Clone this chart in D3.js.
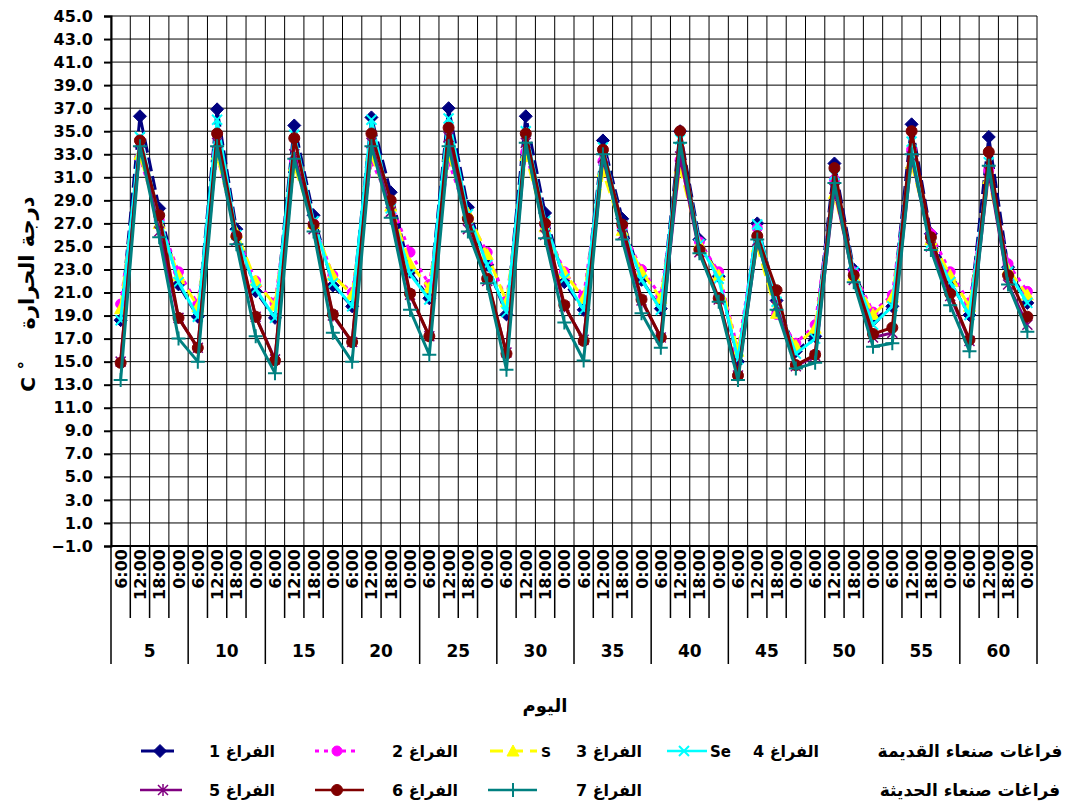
<!DOCTYPE html>
<html>
<head>
<meta charset="utf-8">
<script src="https://cdn.jsdelivr.net/npm/d3@7"></script>
<style>
  html, body { margin: 0; padding: 0; background: #fff; }
  svg { display: block; }
  text { font-family: "DejaVu Sans", "Liberation Sans", sans-serif; font-weight: bold; fill: #000; }
</style>
</head>
<body>
<svg id="chart" width="1082" height="809"></svg>
<script>
// Days and observation hours on the category axis
const days = [5, 10, 15, 20, 25, 30, 35, 40, 45, 50, 55, 60];
const times = ["6:00", "12:00", "18:00", "0:00"];
const yTicks = [-1, 1, 3, 5, 7, 9, 11, 13, 15, 17, 19, 21, 23, 25, 27, 29, 31, 33, 35, 37, 39, 41, 43, 45];

// Air temperature (°C) for each space, 4 readings per day
const space1 = [18.6, 36.3, 28.3, 21.7, 18.9, 36.9, 26.5, 21.1, 18.8, 35.5, 27.7, 21.6,
                19.8, 36.2, 29.7, 22.8, 20.5, 37.0, 28.4, 23.4, 19.1, 36.3, 27.9, 21.9,
                19.5, 34.2, 27.4, 22.1, 19.6, 35.0, 25.6, 22.4, 15.0, 27.0, 20.3, 15.9,
                17.2, 32.2, 23.0, 18.6, 19.8, 35.6, 26.1, 21.9, 19.05, 34.5, 23.2, 20.1];
const space2 = [20.0, 32.7, 27.3, 22.8, 20.0, 33.0, 26.0, 22.0, 20.1, 32.5, 27.0, 22.5,
                21.0, 32.4, 28.8, 24.5, 21.7, 32.4, 27.5, 24.5, 20.3, 33.2, 26.8, 22.8,
                20.7, 32.4, 26.6, 23.0, 20.7, 32.5, 25.4, 22.8, 16.0, 26.6, 19.1, 16.6,
                18.2, 30.8, 22.8, 19.3, 20.8, 33.4, 26.1, 22.8, 20.1, 31.6, 23.5, 21.1];
const space3 = [19.6, 33.0, 27.0, 22.5, 19.8, 33.0, 26.2, 22.0, 19.9, 32.0, 27.0, 22.5,
                20.8, 32.9, 28.5, 23.5, 21.4, 32.9, 27.9, 24.3, 20.2, 32.9, 26.7, 22.7,
                20.5, 31.5, 26.4, 22.8, 20.5, 31.8, 25.2, 22.5, 15.9, 25.0, 19.2, 16.4,
                17.9, 29.6, 22.5, 19.1, 20.6, 32.2, 25.6, 22.5, 19.8, 30.9, 23.0, 20.8];
const space4 = [18.6, 34.5, 27.5, 21.9, 18.9, 36.0, 26.0, 21.3, 18.8, 34.7, 27.2, 21.8,
                19.8, 36.0, 28.3, 22.6, 20.4, 36.1, 27.8, 23.4, 19.3, 35.0, 27.2, 22.2,
                19.5, 33.6, 26.8, 22.1, 19.5, 34.3, 25.2, 22.2, 15.2, 26.9, 20.2, 15.7,
                17.0, 31.2, 22.8, 18.2, 19.8, 34.1, 25.3, 21.9, 19.05, 32.3, 22.8, 20.1];
const space5 = [15.0, 34.0, 26.3, 18.8, 16.2, 34.0, 25.5, 18.9, 15.2, 33.0, 26.5, 19.0,
                16.7, 34.0, 28.0, 20.8, 17.2, 34.5, 26.5, 22.0, 15.8, 34.0, 26.0, 19.8,
                16.9, 32.7, 26.0, 20.3, 17.1, 32.8, 24.5, 20.4, 13.8, 25.5, 19.8, 14.6,
                15.5, 30.0, 22.1, 17.1, 17.5, 32.8, 25.0, 20.7, 16.8, 31.5, 21.7, 18.2];
const space6 = [14.9, 34.2, 27.7, 18.8, 16.2, 34.8, 25.9, 18.9, 15.1, 34.4, 26.9, 19.1,
                16.7, 34.8, 29.0, 20.9, 17.2, 35.3, 27.4, 22.2, 15.7, 34.8, 27.0, 19.9,
                16.8, 33.4, 26.9, 20.4, 17.1, 35.0, 24.7, 20.5, 13.8, 25.9, 21.2, 14.7,
                15.6, 31.8, 22.5, 17.4, 17.95, 35.0, 25.8, 20.9, 16.9, 33.2, 22.5, 18.9];
const space7 = [13.4, 33.7, 25.8, 17.0, 15.0, 33.7, 25.2, 17.2, 14.0, 32.6, 26.3, 17.5,
                15.0, 33.7, 27.5, 19.5, 15.6, 33.7, 26.3, 21.8, 14.3, 34.0, 25.7, 18.4,
                15.1, 33.0, 25.6, 19.2, 16.2, 34.0, 24.4, 20.2, 13.4, 25.6, 19.5, 14.4,
                14.9, 30.5, 21.9, 16.3, 16.6, 33.0, 24.7, 19.9, 15.9, 32.0, 21.7, 17.6];

const seriesNames = ["الفراغ 1", "الفراغ 2", "الفراغ 3", "الفراغ 4", "الفراغ 5", "الفراغ 6", "الفراغ 7"];
const groupNames = ["فراغات صنعاء القديمة", "فراغات صنعاء الحديثة"];

// Drawing styles per series
const series = [
  { name: seriesNames[0], values: space1, color: "#000080", dash: "14,5", marker: "diamond" },
  { name: seriesNames[1], values: space2, color: "#FF00FF", dash: "4,5",  marker: "circleS" },
  { name: seriesNames[2], values: space3, color: "#FFFF00", dash: "13,7", marker: "triangle" },
  { name: seriesNames[3], values: space4, color: "#00FFFF", dash: null,   marker: "x" },
  { name: seriesNames[4], values: space5, color: "#800080", dash: null,   marker: "star" },
  { name: seriesNames[5], values: space6, color: "#800000", dash: null,   marker: "circle" },
  { name: seriesNames[6], values: space7, color: "#008080", dash: null,   marker: "plus" }
];

// Category table: one entry per (day, hour)
const categories = [];
days.forEach(d => times.forEach(t => categories.push({ day: d, time: t })));

const svg = d3.select("#chart");
const plotLeft = 111, plotRight = 1037, plotTop = 16, plotBottom = 546;

const x = d3.scaleBand().domain(d3.range(categories.length)).range([plotLeft, plotRight]).padding(0);
const y = d3.scaleLinear().domain([-1, 45]).range([plotBottom, plotTop]);
const cx = i => x(i) + x.bandwidth() / 2;
const edge = i => (i < categories.length ? x(i) : plotRight);

// Grid
const grid = svg.append("g");
grid.selectAll("line.h").data(yTicks).join("line")
  .attr("x1", plotLeft).attr("x2", plotRight)
  .attr("y1", d => y(d)).attr("y2", d => y(d))
  .attr("stroke", "#000").attr("stroke-width", 1);
grid.selectAll("line.v").data(d3.range(categories.length + 1)).join("line")
  .attr("x1", edge).attr("x2", edge)
  .attr("y1", plotTop).attr("y2", plotBottom)
  .attr("stroke", "#000").attr("stroke-width", 1);

// Y axis
const yAxis = svg.append("g").attr("transform", `translate(${plotLeft},0)`)
  .call(d3.axisLeft(y).tickValues(yTicks).tickFormat(d3.format(".1f")).tickSize(7).tickPadding(11));
yAxis.select(".domain").attr("stroke-width", 2);
yAxis.selectAll(".tick line").attr("stroke-width", 2);
yAxis.selectAll("text").attr("font-size", 16).attr("font-family", "DejaVu Sans").attr("font-weight", "bold");

// Category axis: hour ticks, hour labels, day dividers and day labels
const xa = svg.append("g");
xa.append("line").attr("x1", plotLeft).attr("x2", plotRight).attr("y1", plotBottom).attr("y2", plotBottom)
  .attr("stroke", "#000").attr("stroke-width", 2);
xa.selectAll("line.tk").data(d3.range(categories.length + 1)).join("line")
  .attr("x1", edge).attr("x2", edge)
  .attr("y1", plotBottom)
  .attr("y2", i => (i % times.length === 0 ? 664 : 618))
  .attr("stroke", "#000").attr("stroke-width", 1.5);
xa.selectAll("text.time").data(categories).join("text")
  .attr("transform", (d, i) => `translate(${cx(i) + 6},${plotBottom + 3}) rotate(-90)`)
  .attr("text-anchor", "end")
  .attr("font-size", 16)
  .text(d => d.time);
xa.selectAll("text.day").data(days).join("text")
  .attr("x", (d, k) => (edge(k * 4) + edge(k * 4 + 4)) / 2)
  .attr("y", 657)
  .attr("text-anchor", "middle")
  .attr("font-size", 17)
  .text(d => d);

// Axis titles
svg.append("text").attr("x", 545).attr("y", 712).attr("text-anchor", "middle")
  .attr("font-size", 18).attr("direction", "rtl").text("اليوم");
svg.append("text").attr("transform", "translate(34,263) rotate(-90)").attr("text-anchor", "middle")
  .attr("font-size", 21).attr("direction", "rtl").text("درجة الحرارة");
svg.append("text").attr("transform", "translate(35,376) rotate(-90)").attr("text-anchor", "middle")
  .attr("font-size", 20).text("C ˚");

// Marker drawing
function drawMarker(g, type, color) {
  switch (type) {
    case "diamond":
      g.append("path").attr("d", "M0,-6.5L6.5,0L0,6.5L-6.5,0Z").attr("fill", color).attr("stroke", color);
      break;
    case "circleS":
      g.append("circle").attr("r", 5).attr("fill", color).attr("stroke", color);
      break;
    case "circle":
      g.append("circle").attr("r", 5.5).attr("fill", color).attr("stroke", color);
      break;
    case "triangle":
      g.append("path").attr("d", "M0,-6L6,5L-6,5Z").attr("fill", color).attr("stroke", color);
      break;
    case "x":
      g.append("path").attr("d", "M-5,-5L5,5M-5,5L5,-5").attr("stroke", color).attr("stroke-width", 2).attr("fill", "none");
      break;
    case "star":
      g.append("path").attr("d", "M-5,-5L5,5M-5,5L5,-5M0,-6L0,6").attr("stroke", color).attr("stroke-width", 1.5).attr("fill", "none");
      break;
    case "plus":
      g.append("path").attr("d", "M-7,0L7,0M0,-7L0,7").attr("stroke", color).attr("stroke-width", 2).attr("fill", "none");
      break;
  }
}

// Series lines and markers
const line = d3.line().x((d, i) => cx(i)).y(d => y(d));
series.forEach(s => {
  const g = svg.append("g");
  g.append("path").datum(s.values).attr("d", line)
    .attr("fill", "none").attr("stroke", s.color).attr("stroke-width", 3)
    .attr("stroke-dasharray", s.dash).attr("stroke-linejoin", "round");
  s.values.forEach((v, i) => {
    const m = g.append("g").attr("transform", `translate(${cx(i)},${y(v)})`);
    drawMarker(m, s.marker, s.color);
  });
});

// Legend
const legendRows = [751, 790];
const legendItems = [
  { s: 0, row: 0, x1: 141, x2: 178, mx: 160, tx: 242 },
  { s: 1, row: 0, x1: 315, x2: 357, mx: 337, tx: 425 },
  { s: 2, row: 0, x1: 490, x2: 537, mx: 513, tx: 609 },
  { s: 3, row: 0, x1: 667, x2: 707, mx: 684, tx: 786 },
  { s: 4, row: 1, x1: 140, x2: 182, mx: 163, tx: 242 },
  { s: 5, row: 1, x1: 315, x2: 364, mx: 337, tx: 425 },
  { s: 6, row: 1, x1: 488, x2: 537, mx: 513, tx: 609 }
];
const lg = svg.append("g");
legendItems.forEach(it => {
  const s = series[it.s], yy = legendRows[it.row];
  lg.append("line").attr("x1", it.x1).attr("x2", it.x2).attr("y1", yy).attr("y2", yy)
    .attr("stroke", s.color).attr("stroke-width", s.dash ? 3 : 2.5).attr("stroke-dasharray", s.dash);
  drawMarker(lg.append("g").attr("transform", `translate(${it.mx},${yy})`), s.marker, s.color);
  lg.append("text").attr("x", it.tx).attr("y", yy + 6).attr("text-anchor", "middle")
    .attr("direction", "rtl").attr("font-size", 16).text(s.name);
});

// Default entry names partly hidden behind the Arabic labels
lg.append("text").attr("x", 541).attr("y", legendRows[0] + 6).attr("font-size", 14)
  .attr("font-family", "Liberation Sans").text("S");
lg.append("text").attr("x", 710).attr("y", legendRows[0] + 6).attr("font-size", 15)
  .attr("font-family", "Liberation Sans").text("Se");

// Group captions
groupNames.forEach((t, k) => {
  lg.append("text").attr("x", 970).attr("y", legendRows[k] + 6).attr("text-anchor", "middle")
    .attr("direction", "rtl").attr("font-size", 17).text(t);
});
</script>
</body>
</html>
